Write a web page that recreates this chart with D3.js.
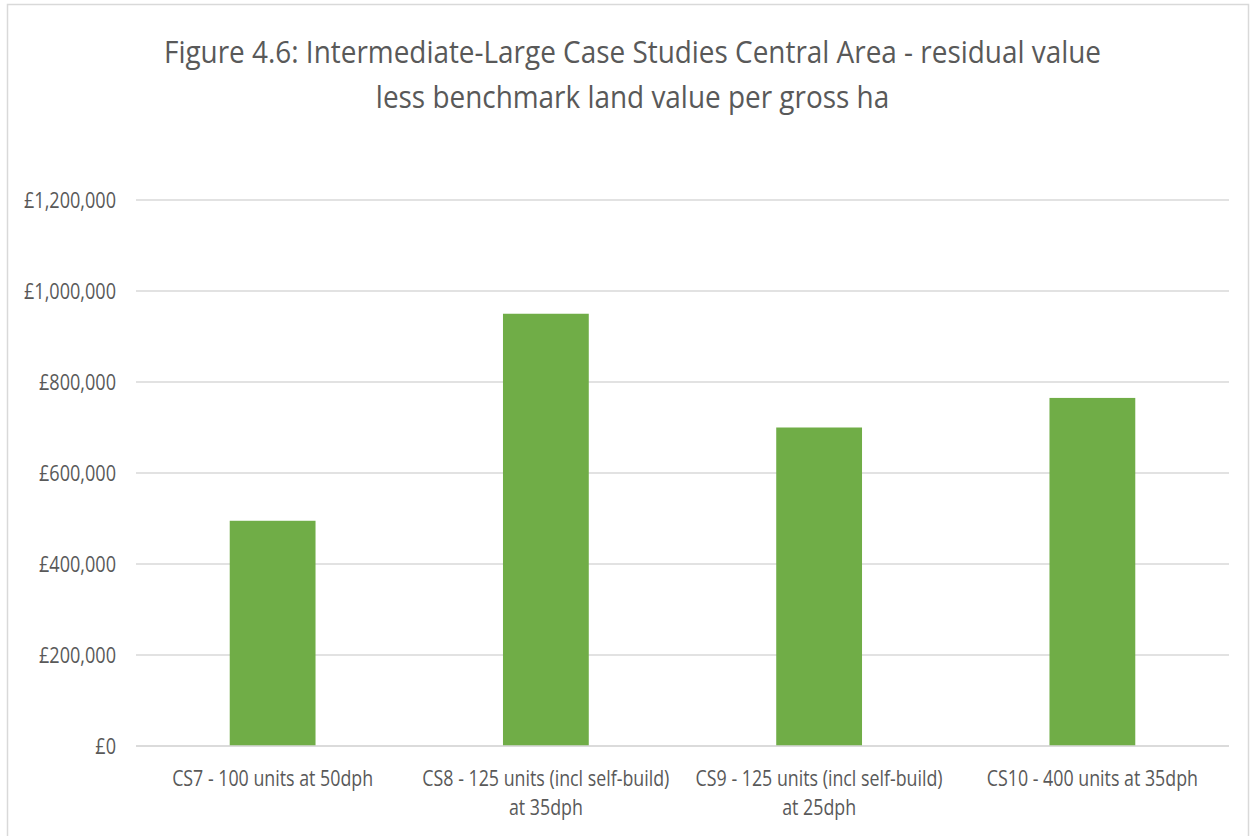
<!DOCTYPE html>
<html>
<head>
<meta charset="utf-8">
<script src="https://cdn.jsdelivr.net/npm/d3@7"></script>
<style>
  html, body { margin: 0; padding: 0; background: #ffffff; }
  svg { display: block; }
  text { font-family: "Open Sans", "Noto Sans", sans-serif; fill: #595959; }
</style>
</head>
<body>
<svg id="chart" width="1253" height="836"></svg>
<script>
// Residual value less benchmark land value per gross hectare, by case study
const categories = [
  ["CS7 - 100 units at 50dph"],
  ["CS8 - 125 units (incl self-build)", "at 35dph"],
  ["CS9 - 125 units (incl self-build)", "at 25dph"],
  ["CS10 - 400 units at 35dph"]
];
const values = [495000, 950000, 700000, 765000];
const tickValues = [0, 200000, 400000, 600000, 800000, 1000000, 1200000];
const titleLines = [
  "Figure 4.6: Intermediate-Large Case Studies Central Area - residual value",
  "less benchmark land value per gross ha"
];

const svg = d3.select("#chart");
const W = 1253, H = 836;
const plot = { left: 136, right: 1229, top: 200, bottom: 746 };

// chart frame
svg.append("rect")
  .attr("x", 7.5).attr("y", 4.5)
  .attr("width", W - 12).attr("height", H)
  .attr("fill", "#ffffff")
  .attr("stroke", "#d9d9d9").attr("stroke-width", 1.5);

// condense a group of labels by one common factor so that the first
// label of the group ends up `width` pixels wide (narrow office-style type)
function condense(sel, width) {
  const nodes = sel.nodes();
  const k = width / nodes[0].getComputedTextLength();
  nodes.forEach(n => {
    const len = n.getComputedTextLength();
    d3.select(n).attr("textLength", len * k).attr("lengthAdjust", "spacingAndGlyphs");
  });
}

// title
svg.append("g").selectAll("text")
  .data(titleLines)
  .join("text")
  .attr("x", 632.5)
  .attr("y", (d, i) => 63 + i * 45)
  .attr("text-anchor", "middle")
  .attr("font-size", 31)
  .text(d => d)
  .call(condense, 937);

const x = d3.scaleBand()
  .domain(categories.map((d, i) => i))
  .range([plot.left, plot.right])
  .paddingInner(0.686)
  .paddingOuter(0.343);

const y = d3.scaleLinear()
  .domain([0, 1200000])
  .range([plot.bottom, plot.top]);

// horizontal gridlines
svg.append("g")
  .selectAll("line")
  .data(tickValues)
  .join("line")
  .attr("x1", plot.left).attr("x2", plot.right)
  .attr("y1", d => y(d)).attr("y2", d => y(d))
  .attr("stroke", "#d9d9d9")
  .attr("stroke-width", 1.5);

// y axis labels
const fmt = d3.format(",");
const yAxis = d3.axisLeft(y)
  .tickValues(tickValues)
  .tickSize(0)
  .tickPadding(0)
  .tickFormat(d => "£" + fmt(d));
const yg = svg.append("g")
  .attr("transform", `translate(116,0)`)
  .call(yAxis);
yg.select(".domain").remove();
const yLabels = yg.selectAll("text")
  .attr("font-size", 21)
  .attr("fill", "#595959")
  .attr("font-family", "'Open Sans', sans-serif")
  .attr("dy", "0.35em");
// condense relative to the widest label (£1,200,000)
condense(d3.selectAll(yLabels.nodes().slice().reverse()), 92);

// bars
svg.append("g")
  .selectAll("rect")
  .data(values)
  .join("rect")
  .attr("x", (d, i) => x(i))
  .attr("width", x.bandwidth())
  .attr("y", d => y(d))
  .attr("height", d => y(0) - y(d))
  .attr("fill", "#70ad47");

// baseline drawn over the bar bottoms
svg.append("line")
  .attr("x1", plot.left).attr("x2", plot.right)
  .attr("y1", y(0)).attr("y2", y(0))
  .attr("stroke", "#d9d9d9")
  .attr("stroke-width", 1.5);

// category labels
const xg = svg.append("g");
categories.forEach((lines, i) => {
  const cx = x(i) + x.bandwidth() / 2;
  lines.forEach((line, j) => {
    xg.append("text")
      .attr("class", "xlabel")
      .attr("x", cx)
      .attr("y", 786 + j * 29)
      .attr("text-anchor", "middle")
      .attr("font-size", 21)
      .text(line);
  });
});
condense(xg.selectAll("text.xlabel"), 201);
</script>
</body>
</html>
